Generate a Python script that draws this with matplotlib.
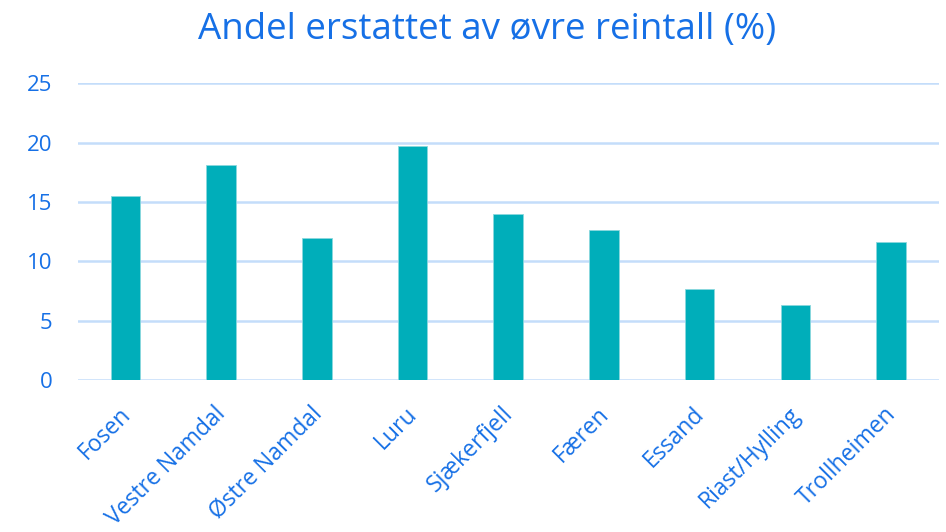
import matplotlib.pyplot as plt
import matplotlib.transforms as mtransforms
import numpy as np

# Andel erstattet av øvre reintall per reinbeitedistrikt
districts = ['Fosen', 'Vestre Namdal', 'Østre Namdal', 'Luru', 'Sjækerfjell',
             'Færen', 'Essand', 'Riast/Hylling', 'Trollheimen']
share = [15.5, 18.1, 12.0, 19.7, 14.0, 12.6, 7.7, 6.3, 11.6]
yticks = [0, 5, 10, 15, 20, 25]

textColor = '#1670e6'
barColor = '#00aeba'
gridColor = '#c4ddfa'

plt.rcParams['font.family'] = ['Open Sans', 'DejaVu Sans']

fig = plt.figure(figsize=(9.46, 5.32), dpi=100)
ax = fig.add_axes([0.082, 0.2857, 0.9105, 0.5577])

x = np.arange(len(districts))
ax.bar(x, share, 0.31, color=barColor, edgecolor='#8ad8de', linewidth=0.6, zorder=3)

ax.set_xlim(-0.5, len(districts) - 0.5)
ax.set_ylim(0, 25)
ax.set_yticks(yticks)
ax.yaxis.grid(True, color=gridColor, linewidth=1.8, zorder=0)

for s in ax.spines.values():
    s.set_visible(False)

ax.tick_params(axis='y', length=0, pad=18, labelsize=16, labelcolor=textColor)
ax.tick_params(axis='x', length=0, pad=16, labelsize=16.5, labelcolor=textColor)
ax.set_xticks(x)
ax.set_xticklabels(districts, rotation=45, ha='right', va='top', rotation_mode='anchor')

# nudge the rotated labels a little to the left
shift = mtransforms.ScaledTranslation(-7 / 100, 0, fig.dpi_scale_trans)
for lbl in ax.get_xticklabels():
    lbl.set_transform(lbl.get_transform() + shift)

fig.suptitle('Andel erstattet av øvre reintall (%)', color=textColor,
             fontsize=26.5, x=0.515, y=0.978, va='top')

plt.savefig('out.png', dpi=100)
